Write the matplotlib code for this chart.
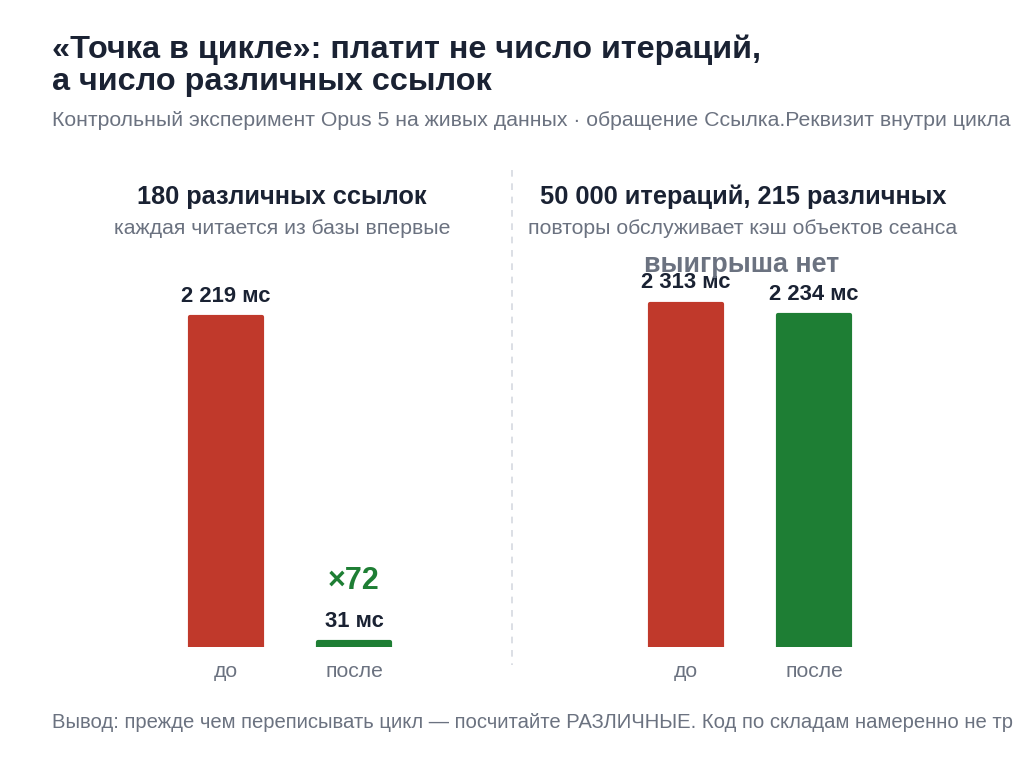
import matplotlib
matplotlib.use("Agg")
import matplotlib.pyplot as plt
from matplotlib.lines import Line2D
from matplotlib.transforms import Bbox

plt.rcParams['font.family'] = ['Liberation Sans', 'DejaVu Sans']

title_lines = ["«Точка в цикле»: платит не число итераций,", "а число различных ссылок"]
subtitle = "Контрольный эксперимент Opus 5 на живых данных · обращение Ссылка.Реквизит внутри цикла"
footer = "Вывод: прежде чем переписывать цикл — посчитайте РАЗЛИЧНЫЕ. Код по складам намеренно не трогали."

categories = ["до", "после"]
panel_titles = ["180 различных ссылок", "50 000 итераций, 215 различных"]
panel_subtitles = ["каждая читается из базы впервые", "повторы обслуживает кэш объектов сеанса"]
left_values = [2219, 31]
right_values = [2313, 2234]
value_labels_left = ["2 219 мс", "31 мс"]
value_labels_right = ["2 313 мс", "2 234 мс"]
speedup_label = "×72"
no_gain_label = "выигрыша нет"

RED = "#c0392b"
GREEN = "#1e7e34"
DARK = "#1a2233"
GRAY = "#6b7280"

W, H = 1024, 768
fig = plt.figure(figsize=(W / 100, H / 100), dpi=100)
fig.patch.set_facecolor("white")

def fx(px):
    return px / W

def fy(py):
    return 1 - py / H

# Title / subtitle
fig.text(fx(52), fy(50), title_lines[0], fontsize=23.3, fontweight="bold", color=DARK, va="center", ha="left")
fig.text(fx(52), fy(82), title_lines[1], fontsize=23.3, fontweight="bold", color=DARK, va="center", ha="left")
fig.text(fx(52), fy(120), subtitle, fontsize=15.3, color=GRAY, va="center", ha="left")

# Panel titles
for cx, t, s in zip([282, 743], panel_titles, panel_subtitles):
    fig.text(fx(cx), fy(197), t, fontsize=18.3, fontweight="bold", color=DARK, ha="center", va="center")
    fig.text(fx(cx), fy(229), s, fontsize=15.3, color=GRAY, ha="center", va="center")

# Divider
fig.add_artist(Line2D([fx(512), fx(512)], [fy(170), fy(665)], color="#d5d9e0",
                      linestyle=(0, (4, 4)), linewidth=1.2, transform=fig.transFigure))

# Axes
base_px = 647
ymax = 2500
scale = 0.1485
ax_h = ymax * scale
lw = 3.0
bar_w = (76 - lw * 100 / 72) / 128

def make_axes(left_px, values, colors, labels):
    ax = fig.add_axes([fx(left_px), fy(base_px), 256 / W, ax_h / H])
    ax.set_xlim(-0.5, 1.5)
    ax.set_ylim(0, ymax)
    ax.axis("off")
    bars = ax.bar(range(len(values)), values, width=bar_w, color=colors,
                  edgecolor=colors, linewidth=lw, joinstyle="round")
    for i, (b, lab) in enumerate(zip(bars, labels)):
        ax.annotate(lab, (b.get_x() + b.get_width() / 2, b.get_height()),
                    xytext=(0, 15), textcoords="offset points", ha="center", va="center",
                    fontsize=15.8, fontweight="bold", color=DARK)
        ax.annotate(categories[i], (b.get_x() + b.get_width() / 2, 0),
                    xytext=(0, -17.5), textcoords="offset points", ha="center", va="center",
                    fontsize=15.2, color=GRAY)
    return ax, bars

axl, bl = make_axes(162, left_values, [RED, GREEN], value_labels_left)
axr, br = make_axes(622, right_values, [RED, GREEN], value_labels_right)

b = bl[1]
axl.annotate(speedup_label, (b.get_x() + b.get_width() / 2, b.get_height()),
             xytext=(0, 44), textcoords="offset points", ha="center", va="center",
             fontsize=22, fontweight="bold", color=GREEN)

fig.text(fx(742), fy(265), no_gain_label, fontsize=19.4, fontweight="bold", color=GRAY,
         ha="center", va="center")

ft = fig.text(fx(52), fy(722), footer, fontsize=14.6, color=GRAY, ha="left", va="center")
ft.set_clip_box(Bbox([[0, 0], [1013, H]]))
ft.set_clip_on(True)

fig.savefig("out.png", dpi=100)
